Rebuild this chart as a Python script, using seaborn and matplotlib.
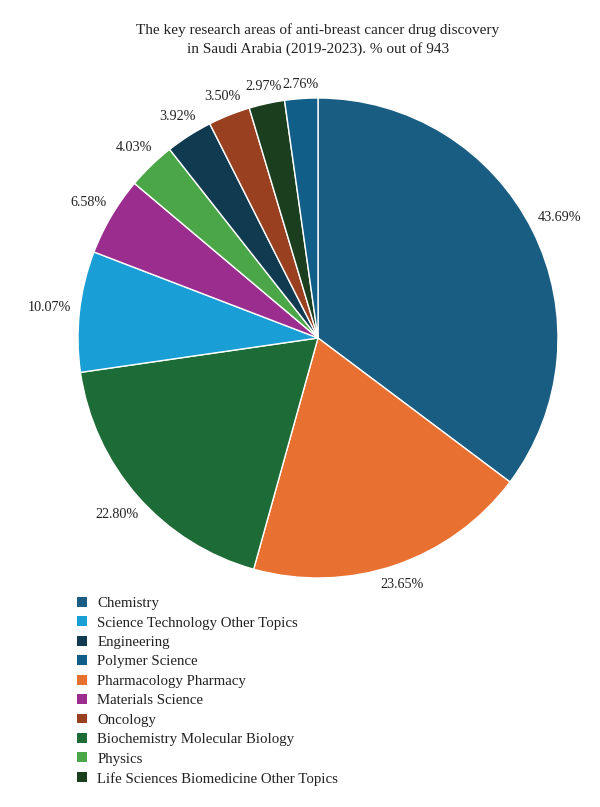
import matplotlib
matplotlib.use("Agg")
import numpy as np
import matplotlib.pyplot as plt
import seaborn as sns
from matplotlib.patches import Patch

# Pie order (clockwise from top)
pie_categories = [
    "Chemistry",
    "Pharmacology Pharmacy",
    "Biochemistry Molecular Biology",
    "Science Technology Other Topics",
    "Materials Science",
    "Physics",
    "Engineering",
    "Oncology",
    "Life Sciences Biomedicine Other Topics",
    "Polymer Science",
]
pie_values = [43.69, 23.65, 22.80, 10.07, 6.58, 4.03, 3.92, 3.50, 2.97, 2.76]

legend_order = [
    "Chemistry",
    "Science Technology Other Topics",
    "Engineering",
    "Polymer Science",
    "Pharmacology Pharmacy",
    "Materials Science",
    "Oncology",
    "Biochemistry Molecular Biology",
    "Physics",
    "Life Sciences Biomedicine Other Topics",
]

colors = {
    "Chemistry": "#195d83",
    "Pharmacology Pharmacy": "#e87131",
    "Biochemistry Molecular Biology": "#1d6b36",
    "Science Technology Other Topics": "#1a9ed6",
    "Materials Science": "#9b2d8e",
    "Physics": "#4aa647",
    "Engineering": "#0f3a50",
    "Oncology": "#994020",
    "Life Sciences Biomedicine Other Topics": "#1b3f1e",
    "Polymer Science": "#115f88",
}

title = "The key research areas of anti-breast cancer drug discovery\nin Saudi Arabia (2019-2023). % out of 943"

sns.set_theme(style="white")
plt.rcParams["font.family"] = ["Liberation Serif", "DejaVu Serif"]

fig = plt.figure(figsize=(6.0, 8.07), dpi=100)
W, H = 600, 807
cx, cy, r = 318, 338, 240
ax = fig.add_axes([(cx - r) / W, (H - cy - r) / H, 2 * r / W, 2 * r / H])

pal = sns.color_palette([colors[c] for c in pie_categories])
labels = [f"{v:.2f}%" for v in pie_values]
wedges, texts = ax.pie(
    pie_values,
    labels=labels,
    colors=pal,
    startangle=90,
    counterclock=False,
    labeldistance=1.1,
    wedgeprops=dict(edgecolor="white", linewidth=1.0),
    textprops=dict(fontsize=10.2, color="#222222"),
    radius=1.0,
)
ax.set_xlim(-1, 1)
ax.set_ylim(-1, 1)
ax.set_aspect("equal")
ax.axis("off")

# place each label just outside the rim, box edge a fixed gap from the wedge
renderer = fig.canvas.get_renderer()
gap_px = 8.0
for w, t in zip(wedges, texts):
    t.set_horizontalalignment("center")
    t.set_verticalalignment("center")
    th = np.deg2rad(0.5 * (w.theta1 + w.theta2))
    bb = t.get_window_extent(renderer)
    hw, hh = bb.width / 2, bb.height / 2 * 0.8
    ext = hw * abs(np.cos(th)) + hh * abs(np.sin(th))
    d = (r + gap_px + ext) / r
    t.set_position((d * np.cos(th), d * np.sin(th)))

fig.text(cx / W, 1 - 40 / H, title, ha="center", va="center", fontsize=11,
         color="#222222", linespacing=1.45)

handles = [Patch(facecolor=colors[c], edgecolor="none") for c in legend_order]
fig.legend(
    handles, legend_order,
    loc="upper left",
    bbox_to_anchor=(77 / W, 1 - 597 / H),
    frameon=False,
    fontsize=10.7,
    handlelength=0.65,
    handleheight=0.65,
    handletextpad=0.72,
    labelspacing=0.42,
    borderpad=0,
    borderaxespad=0,
    labelcolor="#222222",
)

fig.savefig("out.png", dpi=100, facecolor="white")
